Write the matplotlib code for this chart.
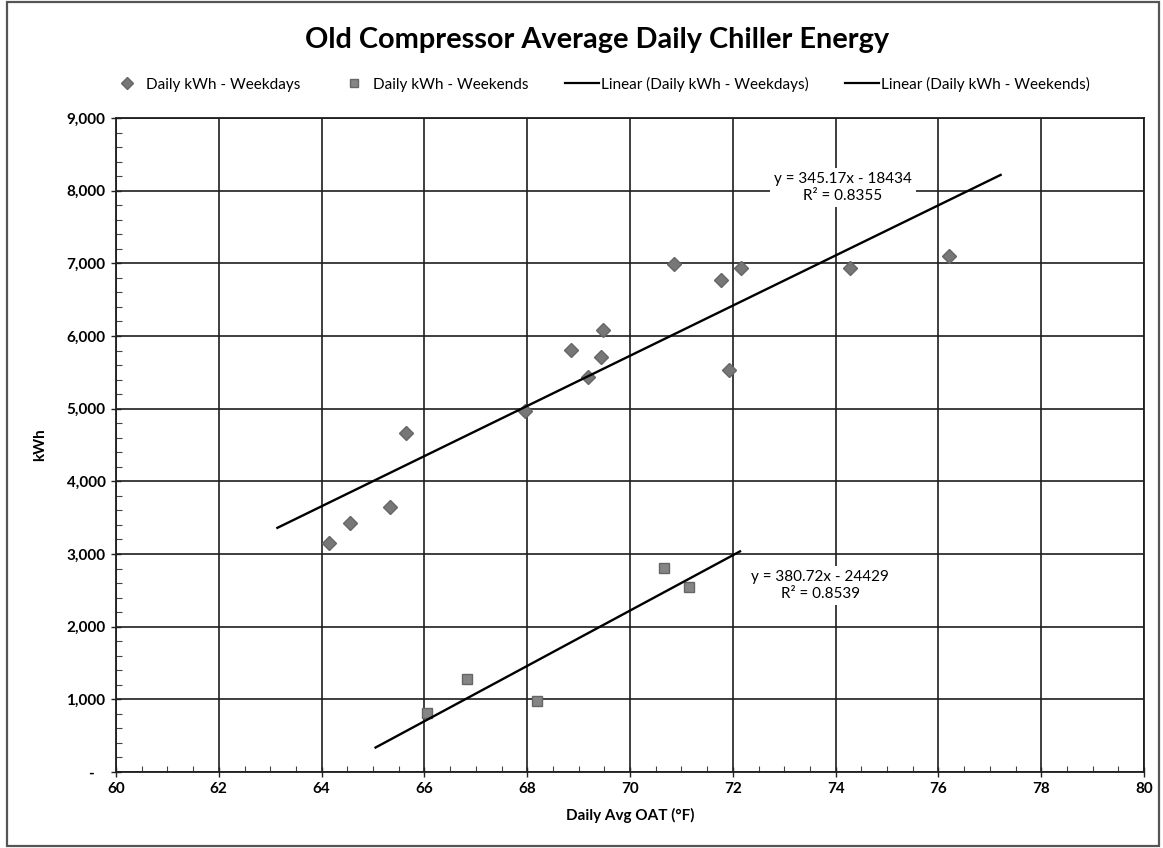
import numpy as np
import matplotlib
matplotlib.use("Agg")
import matplotlib.pyplot as plt
from matplotlib.patches import Rectangle
from matplotlib.lines import Line2D
from matplotlib.ticker import MultipleLocator, FuncFormatter

# ---------------- data ----------------
weekday_oat = [64.14, 64.55, 65.33, 65.65, 67.95, 68.86, 69.19, 69.43, 69.48,
               70.86, 71.77, 71.93, 72.15, 74.28, 76.21]
weekday_kwh = [3150, 3430, 3640, 4670, 4970, 5810, 5430, 5715, 6080,
               6990, 6770, 5530, 6930, 6930, 7100]

weekend_oat = [66.05, 66.83, 68.19, 70.67, 71.14]
weekend_kwh = [810, 1275, 980, 2810, 2550]

# trendline coefficients (as printed on chart)
weekday_fit = [345.17, -18434]
weekend_fit = [380.72, -24429]
weekday_r2 = 0.8355
weekend_r2 = 0.8539
forecast = 1.0

title = "Old Compressor Average Daily Chiller Energy"
legend_labels = ["Daily kWh - Weekdays", "Daily kWh - Weekends",
                 "Linear (Daily kWh - Weekdays)", "Linear (Daily kWh - Weekends)"]
x_label = "Daily Avg OAT (°F)"
y_label = "kWh"

FONT = ["Lato", "DejaVu Sans"]
plt.rcParams["font.family"] = FONT

W, H = 1163, 848
fig = plt.figure(figsize=(W / 100, H / 100), dpi=100)
fig.patch.set_facecolor("white")

# outer chart border
fig.add_artist(Rectangle((7 / W, 2 / H), (1159 - 7) / W, (846 - 2) / H,
                         transform=fig.transFigure, fill=False,
                         edgecolor="#555555", lw=1.6))

left, right, top, bottom = 116, 1144, 118, 772
ax = fig.add_axes([left / W, 1 - bottom / H, (right - left) / W, (bottom - top) / H])

ax.set_xlim(60, 80)
ax.set_ylim(0, 9000)
ax.xaxis.set_major_locator(MultipleLocator(2))
ax.xaxis.set_minor_locator(MultipleLocator(0.5))
ax.yaxis.set_major_locator(MultipleLocator(1000))
ax.yaxis.set_minor_locator(MultipleLocator(200))
ax.yaxis.set_major_formatter(FuncFormatter(lambda v, p: "-   " if v == 0 else f"{v:,.0f}"))

ax.grid(True, which="major", color="#1e1e1e", lw=1.2, zorder=0)
ax.set_axisbelow(True)
for s in ax.spines.values():
    s.set_color("#1e1e1e")
    s.set_linewidth(1.3)

ax.tick_params(which="major", direction="inout", length=7, width=1, color="#222222",
               labelsize=11, pad=4)
ax.tick_params(which="minor", direction="in", length=4, width=0.8, color="#444444")
for lab in ax.get_xticklabels() + ax.get_yticklabels():
    lab.set_fontweight("bold")

# scatter points
ax.plot(weekday_oat, weekday_kwh, linestyle="none", marker="D", markersize=7.5,
        markerfacecolor="#777777", markeredgecolor="#666666", zorder=3)
ax.plot(weekend_oat, weekend_kwh, linestyle="none", marker="s", markersize=7.5,
        markerfacecolor="#858585", markeredgecolor="#666666", zorder=3)

# trendlines
def trend(xs, fit):
    x0, x1 = min(xs) - forecast, max(xs) + forecast
    xx = np.array([x0, x1])
    return xx, fit[0] * xx + fit[1]

tx, ty = trend(weekday_oat, weekday_fit)
ax.plot(tx, ty, color="black", lw=1.7, zorder=4)
tx, ty = trend(weekend_oat, weekend_fit)
ax.plot(tx, ty, color="black", lw=1.7, zorder=4)

# equation labels
box = dict(facecolor="white", edgecolor="none", pad=3)
ax.text(74.14, 8040,
        f"y = {weekday_fit[0]:.2f}x - {abs(weekday_fit[1]):.0f}\nR² = {weekday_r2:.4f}",
        ha="center", va="center", fontsize=11, linespacing=1.25, bbox=box, zorder=5)
ax.text(73.70, 2563,
        f"y = {weekend_fit[0]:.2f}x - {abs(weekend_fit[1]):.0f}\nR² = {weekend_r2:.4f}",
        ha="center", va="center", fontsize=11, linespacing=1.25, bbox=box, zorder=5)

# axis titles
ax.set_xlabel(x_label, fontsize=11, fontweight="bold", labelpad=8)
ax.set_ylabel(y_label, fontsize=11, fontweight="bold", labelpad=14)

# title
fig.text(597 / W, 1 - 48 / H, title, ha="center", va="baseline",
         fontsize=20.8, fontweight="bold")

# legend
handles = [
    Line2D([], [], linestyle="none", marker="D", markersize=6,
           markerfacecolor="#777777", markeredgecolor="#666666"),
    Line2D([], [], linestyle="none", marker="s", markersize=6,
           markerfacecolor="#858585", markeredgecolor="#666666"),
    Line2D([], [], color="black", lw=1.6),
    Line2D([], [], color="black", lw=1.6),
]
fig.legend(handles, legend_labels, ncol=4, loc="center",
           bbox_to_anchor=(600 / W, 1 - 84 / H), frameon=False,
           fontsize=11, handlelength=2.2, handletextpad=0.15, columnspacing=2.4)

fig.savefig("out.png", dpi=100, facecolor="white")
